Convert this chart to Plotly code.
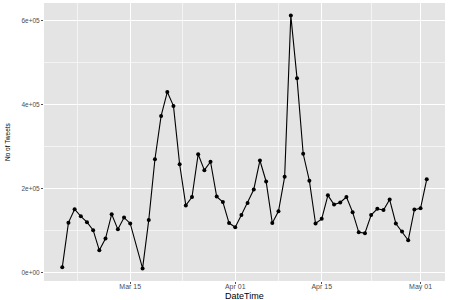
import plotly.graph_objects as go
import pandas as pd

dates = (
    [f"2020-03-{d:02d}" for d in range(4, 16)]
    + [f"2020-03-{d:02d}" for d in range(17, 32)]
    + [f"2020-04-{d:02d}" for d in range(1, 31)]
    + ["2020-05-01", "2020-05-02"]
)
tweets = [
    12600, 119000, 151000, 134000, 120000, 101000, 53000, 81000, 139000, 103000, 131000, 117000,
    10000, 125000, 270000, 373000, 430000, 397000, 258000, 160000, 180000, 282000, 244000, 264000,
    181000, 168000, 118000,
    108000, 137000, 166000, 198000, 267000, 217000, 118000, 146000, 228000, 612000, 463000,
    283000, 219000, 117000, 128000, 184000, 162000, 167000, 180000, 144000, 96000, 94000,
    137000, 152000, 149000, 174000, 117000, 98000, 77000, 150000,
    153000, 222000,
]

x_tickvals = ["2020-03-15", "2020-04-01", "2020-04-15", "2020-05-01"]
x_ticktext = ["Mar 15", "Apr 01", "Apr 15", "May 01"]
x_minor = ["2020-03-06 12:00", "2020-03-23 12:00", "2020-04-08 00:00", "2020-04-23 00:00"]
y_tickvals = [0, 200000, 400000, 600000]
y_ticktext = ["0e+00", "2e+05", "4e+05", "6e+05"]
y_minor = [100000, 300000, 500000]

fig = go.Figure()
fig.add_trace(go.Scatter(
    x=pd.to_datetime(dates), y=tweets, mode="lines+markers",
    line=dict(color="black", width=1.1),
    marker=dict(color="black", size=4, symbol="circle"),
    showlegend=False,
))

fig.update_layout(
    width=450, height=300,
    margin=dict(l=44, r=5, t=3, b=19),
    paper_bgcolor="white", plot_bgcolor="#E4E4E4",
    font=dict(family="Liberation Sans, Arial, sans-serif"),
    annotations=[
        dict(text="DateTime", xref="paper", yref="paper", x=0.5, y=0, yshift=-14.5,
             xanchor="center", yanchor="middle", showarrow=False,
             font=dict(size=9, color="black")),
        dict(text="No of Tweets", xref="paper", yref="paper", x=0, y=0.5, xshift=-37,
             xanchor="center", yanchor="middle", textangle=-90, showarrow=False,
             font=dict(size=6.5, color="black")),
    ],
)
fig.update_xaxes(
    range=[pd.Timestamp("2020-03-01 01:00"), pd.Timestamp("2020-05-04 23:00")],
    tickvals=pd.to_datetime(x_tickvals), ticktext=x_ticktext,
    tickfont=dict(size=7, color="#4D4D4D"),
    ticks="outside", ticklen=1.5, tickcolor="#4D4D4D", tickwidth=0.8,
    ticklabelstandoff=-3,
    showgrid=True, gridcolor="white", gridwidth=1.1,
    minor=dict(tickvals=pd.to_datetime(x_minor), showgrid=True, gridcolor="#F4F4F4", gridwidth=0.6, ticks=""),
    zeroline=False, showline=False,
)
fig.update_yaxes(
    range=[-20000, 642000],
    tickvals=y_tickvals, ticktext=y_ticktext,
    tickfont=dict(size=6.5, color="#4D4D4D"),
    ticks="outside", ticklen=2, tickcolor="#4D4D4D", tickwidth=0.8,
    showgrid=True, gridcolor="white", gridwidth=1.1,
    minor=dict(tickvals=y_minor, showgrid=True, gridcolor="#F4F4F4", gridwidth=0.6, ticks=""),
    zeroline=False, showline=False,
)

fig.write_html("out.html", config={"displayModeBar": False},
               post_script="document.body.style.margin='0';")
